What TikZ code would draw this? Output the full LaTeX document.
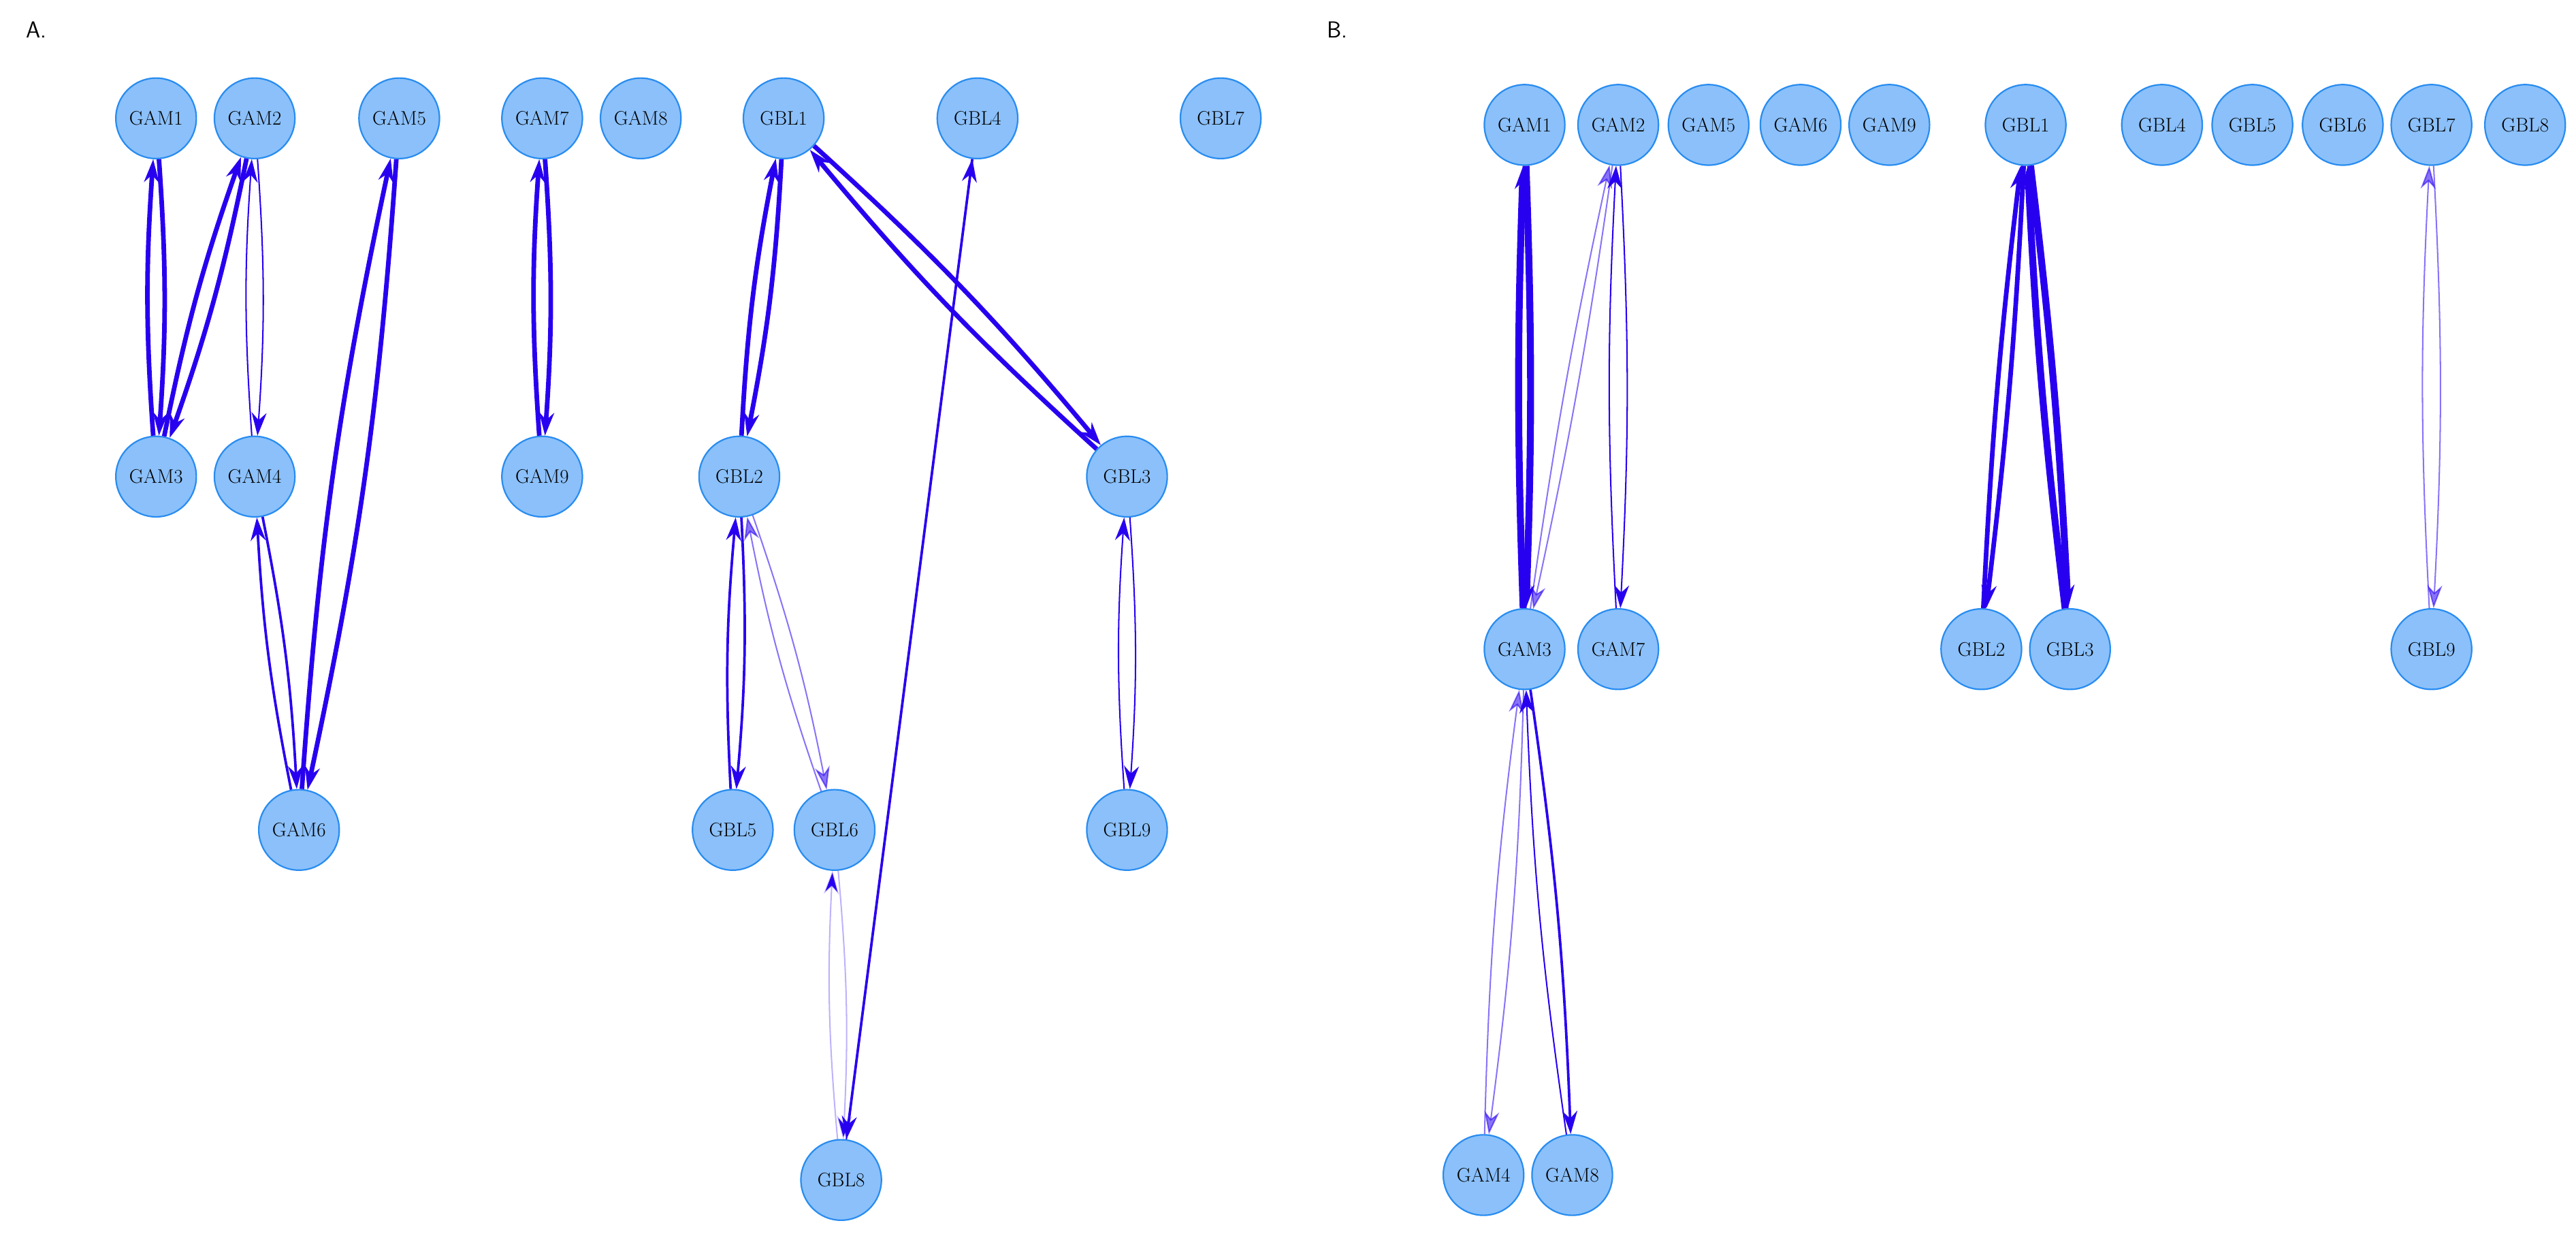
\documentclass[tikz,border=0pt]{standalone}
\usepackage{tikz}
\usetikzlibrary{arrows.meta}
\definecolor{nodefill}{RGB}{139,192,250}
\definecolor{nodeline}{RGB}{40,140,240}
\definecolor{edgeblue}{RGB}{40,0,240}
\begin{document}
\begin{tikzpicture}[x=0.05cm,y=-0.05cm,
  st/.style={circle,draw=nodeline,fill=nodefill,line width=1.3pt,minimum size=2.45cm,inner sep=0pt,font=\fontsize{17}{19}\selectfont},
  ed/.style={draw=edgeblue,-{Stealth[length=20pt,width=13pt]},bend left=4},
  w1/.style={ed,line width=1.2pt},
  w2/.style={ed,line width=2.2pt},
  w3/.style={ed,line width=4pt},
  w4/.style={ed,line width=6pt},
  lt/.style={draw opacity=0.55,fill opacity=0.55},
  vl/.style={draw opacity=0.3}]
	\useasboundingbox (0,0) rectangle (1568,752);
	\node[font=\fontsize{20}{24}\sffamily] (labA) at (22,18) {A.};
	\node[font=\fontsize{20}{24}\sffamily] (labB) at (814,18) {B.};
	% A
	\node[st] (aGAM1) at (95,72) {GAM1};
	\node[st] (aGAM2) at (155,72) {GAM2};
	\node[st] (aGAM5) at (243,72) {GAM5};
	\node[st] (aGAM7) at (330,72) {GAM7};
	\node[st] (aGAM8) at (390,72) {GAM8};
	\node[st] (aGBL1) at (477,72) {GBL1};
	\node[st] (aGBL4) at (595,72) {GBL4};
	\node[st] (aGBL7) at (743,72) {GBL7};
	\node[st] (aGAM3) at (95,290) {GAM3};
	\node[st] (aGAM4) at (155,290) {GAM4};
	\node[st] (aGAM9) at (330,290) {GAM9};
	\node[st] (aGBL2) at (450,290) {GBL2};
	\node[st] (aGBL3) at (686,290) {GBL3};
	\node[st] (aGAM6) at (182,505) {GAM6};
	\node[st] (aGBL5) at (446,505) {GBL5};
	\node[st] (aGBL6) at (508,505) {GBL6};
	\node[st] (aGBL9) at (686,505) {GBL9};
	\node[st] (aGBL8) at (512,718) {GBL8};
	\draw[w3] (aGAM1) to (aGAM3);
	\draw[w3] (aGAM3) to (aGAM1);
	\draw[w3] (aGAM2) to (aGAM3);
	\draw[w3] (aGAM3) to (aGAM2);
	\draw[w1] (aGAM2) to (aGAM4);
	\draw[w1] (aGAM4) to (aGAM2);
	\draw[w2] (aGAM4) to (aGAM6);
	\draw[w2] (aGAM6) to (aGAM4);
	\draw[w3] (aGAM5) to (aGAM6);
	\draw[w3] (aGAM6) to (aGAM5);
	\draw[w3] (aGAM7) to (aGAM9);
	\draw[w3] (aGAM9) to (aGAM7);
	\draw[w3] (aGBL1) to (aGBL2);
	\draw[w3] (aGBL2) to (aGBL1);
	\draw[w3] (aGBL1) to (aGBL3);
	\draw[w3] (aGBL3) to (aGBL1);
	\draw[w2] (aGBL2) to (aGBL5);
	\draw[w2] (aGBL5) to (aGBL2);
	\draw[w1,lt] (aGBL2) to (aGBL6);
	\draw[w1,lt] (aGBL6) to (aGBL2);
	\draw[w1] (aGBL3) to (aGBL9);
	\draw[w1] (aGBL9) to (aGBL3);
	\draw[w1,vl] (aGBL6) to (aGBL8);
	\draw[w1,vl] (aGBL8) to (aGBL6);
	\draw[w2,bend left=0] (aGBL4) to (aGBL8);
	\draw[w1,bend left=0] (aGBL8) to (aGBL4);
	% B
	\node[st] (bGAM1) at (928,76) {GAM1};
	\node[st] (bGAM2) at (985,76) {GAM2};
	\node[st] (bGAM5) at (1040,76) {GAM5};
	\node[st] (bGAM6) at (1096,76) {GAM6};
	\node[st] (bGAM9) at (1150,76) {GAM9};
	\node[st] (bGBL1) at (1233,76) {GBL1};
	\node[st] (bGBL4) at (1316,76) {GBL4};
	\node[st] (bGBL5) at (1371,76) {GBL5};
	\node[st] (bGBL6) at (1426,76) {GBL6};
	\node[st] (bGBL7) at (1480,76) {GBL7};
	\node[st] (bGBL8) at (1537,76) {GBL8};
	\node[st] (bGAM3) at (928,395) {GAM3};
	\node[st] (bGAM7) at (985,395) {GAM7};
	\node[st] (bGBL2) at (1206,395) {GBL2};
	\node[st] (bGBL3) at (1260,395) {GBL3};
	\node[st] (bGBL9) at (1480,395) {GBL9};
	\node[st] (bGAM4) at (903,715) {GAM4};
	\node[st] (bGAM8) at (957,715) {GAM8};
	\draw[w4,bend left=2] (bGAM1) to (bGAM3);
	\draw[w4,bend left=2] (bGAM3) to (bGAM1);
	\draw[w1,lt,bend left=2] (bGAM2) to (bGAM3);
	\draw[w1,lt,bend left=2] (bGAM3) to (bGAM2);
	\draw[w1,bend left=3] (bGAM2) to (bGAM7);
	\draw[w1,bend left=3] (bGAM7) to (bGAM2);
	\draw[w3,bend left=2] (bGBL1) to (bGBL2);
	\draw[w3,bend left=2] (bGBL2) to (bGBL1);
	\draw[w4,bend left=2] (bGBL1) to (bGBL3);
	\draw[w4,bend left=2] (bGBL3) to (bGBL1);
	\draw[w1,lt,bend left=3] (bGBL7) to (bGBL9);
	\draw[w1,lt,bend left=3] (bGBL9) to (bGBL7);
	\draw[w1,lt,bend left=3] (bGAM3) to (bGAM4);
	\draw[w1,lt,bend left=3] (bGAM4) to (bGAM3);
	\draw[w2,bend left=3] (bGAM3) to (bGAM8);
	\draw[w1,bend left=3] (bGAM8) to (bGAM3);
\end{tikzpicture}
\end{document}
